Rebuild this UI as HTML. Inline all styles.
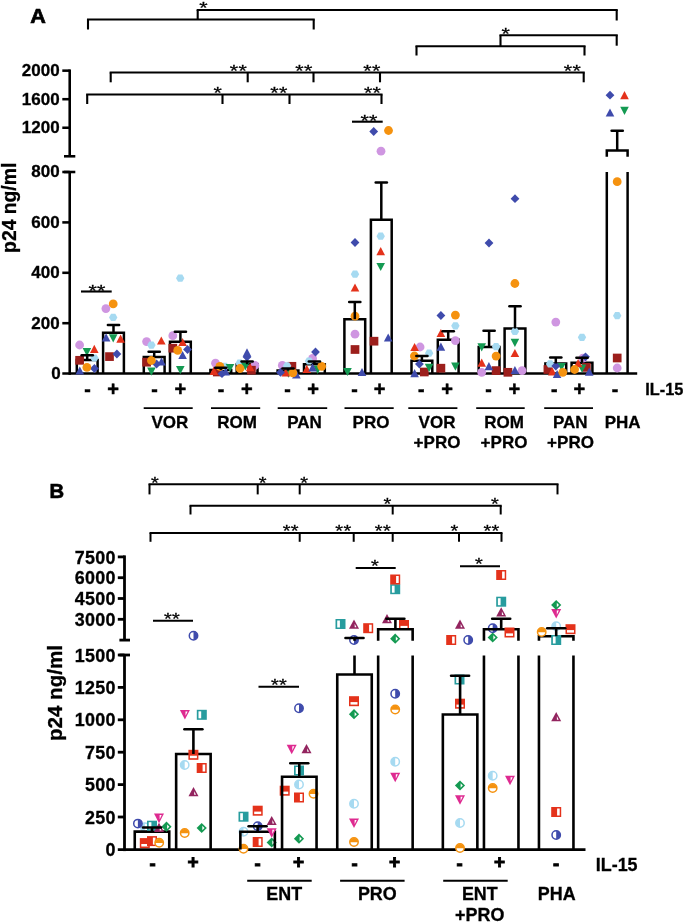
<!DOCTYPE html>
<html><head><meta charset="utf-8"><title>Figure</title>
<style>html,body{margin:0;padding:0;background:#fff;}body{width:685px;height:922px;overflow:hidden;}svg{display:block;filter:blur(0.45px);}</style>
</head><body>
<svg width="685" height="922" viewBox="0 0 685 922" font-family='"Liberation Sans", sans-serif' fill="#000">
<rect width="685" height="922" fill="#fff"/>
<line x1="69.70" y1="69.40" x2="69.70" y2="156.30" stroke="#000" stroke-width="2.55" stroke-linecap="butt"/>
<line x1="64.00" y1="156.30" x2="75.30" y2="156.30" stroke="#000" stroke-width="2.55" stroke-linecap="butt"/>
<line x1="64.00" y1="172.00" x2="75.30" y2="172.00" stroke="#000" stroke-width="2.55" stroke-linecap="butt"/>
<line x1="69.70" y1="172.00" x2="69.70" y2="374.80" stroke="#000" stroke-width="2.55" stroke-linecap="butt"/>
<line x1="62.30" y1="70.66" x2="69.70" y2="70.66" stroke="#000" stroke-width="2.55" stroke-linecap="butt"/>
<text x="59.60" y="76.06" font-size="17.0" font-weight="bold" text-anchor="end" stroke="#000" stroke-width="0.3" >2000</text>
<line x1="62.30" y1="99.20" x2="69.70" y2="99.20" stroke="#000" stroke-width="2.55" stroke-linecap="butt"/>
<text x="59.60" y="104.60" font-size="17.0" font-weight="bold" text-anchor="end" stroke="#000" stroke-width="0.3" >1600</text>
<line x1="62.30" y1="127.75" x2="69.70" y2="127.75" stroke="#000" stroke-width="2.55" stroke-linecap="butt"/>
<text x="59.60" y="133.15" font-size="17.0" font-weight="bold" text-anchor="end" stroke="#000" stroke-width="0.3" >1200</text>
<line x1="62.30" y1="172.00" x2="69.70" y2="172.00" stroke="#000" stroke-width="2.55" stroke-linecap="butt"/>
<text x="59.60" y="177.40" font-size="17.0" font-weight="bold" text-anchor="end" stroke="#000" stroke-width="0.3" >800</text>
<line x1="62.30" y1="222.40" x2="69.70" y2="222.40" stroke="#000" stroke-width="2.55" stroke-linecap="butt"/>
<text x="59.60" y="227.80" font-size="17.0" font-weight="bold" text-anchor="end" stroke="#000" stroke-width="0.3" >600</text>
<line x1="62.30" y1="272.80" x2="69.70" y2="272.80" stroke="#000" stroke-width="2.55" stroke-linecap="butt"/>
<text x="59.60" y="278.20" font-size="17.0" font-weight="bold" text-anchor="end" stroke="#000" stroke-width="0.3" >400</text>
<line x1="62.30" y1="323.20" x2="69.70" y2="323.20" stroke="#000" stroke-width="2.55" stroke-linecap="butt"/>
<text x="59.60" y="328.60" font-size="17.0" font-weight="bold" text-anchor="end" stroke="#000" stroke-width="0.3" >200</text>
<text x="60.80" y="378.90" font-size="17.0" font-weight="bold" text-anchor="end" stroke="#000" stroke-width="0.3" >0</text>
<line x1="62.30" y1="373.50" x2="637.20" y2="373.50" stroke="#000" stroke-width="2.7" stroke-linecap="butt"/>
<path d="M76.80,373.5 V360.00 H97.60 V373.5" fill="none" stroke="#000" stroke-width="2.5"/>
<path d="M103.10,373.5 V332.80 H123.90 V373.5" fill="none" stroke="#000" stroke-width="2.5"/>
<path d="M143.80,373.5 V357.00 H164.60 V373.5" fill="none" stroke="#000" stroke-width="2.5"/>
<path d="M170.00,373.5 V341.70 H190.80 V373.5" fill="none" stroke="#000" stroke-width="2.5"/>
<path d="M210.40,373.5 V369.90 H231.20 V373.5" fill="none" stroke="#000" stroke-width="2.5"/>
<path d="M236.70,373.5 V364.20 H257.50 V373.5" fill="none" stroke="#000" stroke-width="2.5"/>
<path d="M277.60,373.5 V370.60 H298.40 V373.5" fill="none" stroke="#000" stroke-width="2.5"/>
<path d="M304.00,373.5 V364.20 H324.80 V373.5" fill="none" stroke="#000" stroke-width="2.5"/>
<path d="M344.40,373.5 V319.20 H365.20 V373.5" fill="none" stroke="#000" stroke-width="2.5"/>
<path d="M370.90,373.5 V219.80 H391.70 V373.5" fill="none" stroke="#000" stroke-width="2.5"/>
<path d="M411.50,373.5 V360.80 H432.30 V373.5" fill="none" stroke="#000" stroke-width="2.5"/>
<path d="M437.80,373.5 V339.80 H458.60 V373.5" fill="none" stroke="#000" stroke-width="2.5"/>
<path d="M478.70,373.5 V347.00 H499.50 V373.5" fill="none" stroke="#000" stroke-width="2.5"/>
<path d="M504.60,373.5 V328.60 H525.40 V373.5" fill="none" stroke="#000" stroke-width="2.5"/>
<path d="M545.40,373.5 V363.50 H566.20 V373.5" fill="none" stroke="#000" stroke-width="2.5"/>
<path d="M571.60,373.5 V362.80 H592.40 V373.5" fill="none" stroke="#000" stroke-width="2.5"/>
<path d="M606.80,156.7 V150.5 H627.60 V156.7" fill="none" stroke="#000" stroke-width="2.5"/>
<line x1="606.80" y1="172.00" x2="606.80" y2="373.50" stroke="#000" stroke-width="2.5" stroke-linecap="butt"/>
<line x1="627.60" y1="172.00" x2="627.60" y2="373.50" stroke="#000" stroke-width="2.5" stroke-linecap="butt"/>
<circle cx="79.6" cy="345" r="4.4" fill="#CF96E1"/>
<rect x="75.25" y="355.95" width="8.7" height="8.7" fill="#9C1F1C"/>
<polygon points="90.20,358.00 92.30,354.40 96.50,354.40 98.60,358.00 96.50,361.60 92.30,361.60" fill="#A6DAF1" />
<polygon points="82.60,348.10 91.20,348.10 86.90,356.30" fill="#149A52" />
<polygon points="90.00,352.90 98.60,352.90 94.30,344.70" fill="#E4321B" />
<polygon points="90.00,368.50 94.40,364.10 98.80,368.50 94.40,372.90" fill="#3F4BAC" />
<polygon points="75.50,374.60 84.10,374.60 79.80,366.40" fill="#3F4BAC" />
<circle cx="86.9" cy="367.4" r="4.4" fill="#F5920F"/>
<circle cx="105.9" cy="308.6" r="4.4" fill="#CF96E1"/>
<rect x="105.15" y="352.25" width="8.7" height="8.7" fill="#9C1F1C"/>
<polygon points="109.00,317.40 111.10,313.80 115.30,313.80 117.40,317.40 115.30,321.00 111.10,321.00" fill="#A6DAF1" />
<polygon points="108.90,334.20 117.50,334.20 113.20,342.40" fill="#149A52" />
<polygon points="116.30,342.80 124.90,342.80 120.60,334.60" fill="#E4321B" />
<polygon points="112.50,354.00 116.90,349.60 121.30,354.00 116.90,358.40" fill="#3F4BAC" />
<polygon points="101.80,341.50 110.40,341.50 106.10,333.30" fill="#3F4BAC" />
<circle cx="113.2" cy="303.9" r="4.4" fill="#F5920F"/>
<circle cx="146.6" cy="341.6" r="4.4" fill="#CF96E1"/>
<rect x="142.25" y="357.85" width="8.7" height="8.7" fill="#9C1F1C"/>
<polygon points="147.20,345.10 149.30,341.50 153.50,341.50 155.60,345.10 153.50,348.70 149.30,348.70" fill="#A6DAF1" />
<polygon points="147.10,367.50 155.70,367.50 151.40,375.70" fill="#149A52" />
<polygon points="157.00,344.60 165.60,344.60 161.30,336.40" fill="#E4321B" />
<polygon points="152.20,364.00 156.60,359.60 161.00,364.00 156.60,368.40" fill="#3F4BAC" />
<polygon points="157.20,365.60 165.80,365.60 161.50,357.40" fill="#3F4BAC" />
<circle cx="151.4" cy="360.5" r="4.4" fill="#F5920F"/>
<circle cx="172.8" cy="335.7" r="4.4" fill="#CF96E1"/>
<rect x="168.45" y="343.85" width="8.7" height="8.7" fill="#9C1F1C"/>
<polygon points="176.00,278.20 178.10,274.60 182.30,274.60 184.40,278.20 182.30,281.80 178.10,281.80" fill="#A6DAF1" />
<polygon points="176.00,366.00 184.60,366.00 180.30,374.20" fill="#149A52" />
<polygon points="178.30,346.10 186.90,346.10 182.60,337.90" fill="#E4321B" />
<polygon points="183.10,349.50 187.50,345.10 191.90,349.50 187.50,353.90" fill="#3F4BAC" />
<polygon points="178.30,359.10 186.90,359.10 182.60,350.90" fill="#3F4BAC" />
<circle cx="177.7" cy="350.4" r="4.4" fill="#F5920F"/>
<circle cx="215.5" cy="363.2" r="4.4" fill="#CF96E1"/>
<rect x="212.95" y="367.65" width="8.7" height="8.7" fill="#9C1F1C"/>
<polygon points="220.50,366.30 222.60,362.70 226.80,362.70 228.90,366.30 226.80,369.90 222.60,369.90" fill="#A6DAF1" />
<polygon points="225.70,363.90 234.30,363.90 230.00,372.10" fill="#149A52" />
<polygon points="209.50,374.90 218.10,374.90 213.80,366.70" fill="#E4321B" />
<polygon points="217.60,373.70 222.00,369.30 226.40,373.70 222.00,378.10" fill="#3F4BAC" />
<polygon points="221.30,375.60 229.90,375.60 225.60,367.40" fill="#3F4BAC" />
<circle cx="219.9" cy="366.3" r="4.4" fill="#F5920F"/>
<circle cx="254.9" cy="365.4" r="4.4" fill="#CF96E1"/>
<rect x="247.05" y="365.85" width="8.7" height="8.7" fill="#9C1F1C"/>
<polygon points="235.40,363.20 237.50,359.60 241.70,359.60 243.80,363.20 241.70,366.80 237.50,366.80" fill="#A6DAF1" />
<polygon points="241.00,362.40 249.60,362.40 245.30,370.60" fill="#149A52" />
<polygon points="245.80,371.20 254.40,371.20 250.10,363.00" fill="#E4321B" />
<polygon points="242.60,357.00 247.00,352.60 251.40,357.00 247.00,361.40" fill="#3F4BAC" />
<polygon points="242.70,356.50 251.30,356.50 247.00,348.30" fill="#3F4BAC" />
<circle cx="240" cy="368.5" r="4.4" fill="#F5920F"/>
<circle cx="282.3" cy="365.4" r="4.4" fill="#CF96E1"/>
<rect x="287.55" y="361.95" width="8.7" height="8.7" fill="#9C1F1C"/>
<polygon points="282.90,365.80 285.00,362.20 289.20,362.20 291.30,365.80 289.20,369.40 285.00,369.40" fill="#A6DAF1" />
<polygon points="284.10,369.60 292.70,369.60 288.40,377.80" fill="#149A52" />
<polygon points="281.50,376.50 290.10,376.50 285.80,368.30" fill="#E4321B" />
<polygon points="276.10,372.40 280.50,368.00 284.90,372.40 280.50,376.80" fill="#3F4BAC" />
<polygon points="292.10,378.40 300.70,378.40 296.40,370.20" fill="#3F4BAC" />
<circle cx="292.9" cy="372.8" r="4.4" fill="#F5920F"/>
<circle cx="312.6" cy="358.4" r="4.4" fill="#CF96E1"/>
<polygon points="304.80,361.00 306.90,357.40 311.10,357.40 313.20,361.00 311.10,364.60 306.90,364.60" fill="#A6DAF1" />
<polygon points="313.40,365.70 322.00,365.70 317.70,373.90" fill="#149A52" />
<polygon points="302.50,373.00 311.10,373.00 306.80,364.80" fill="#E4321B" />
<polygon points="311.10,352.00 315.50,347.60 319.90,352.00 315.50,356.40" fill="#3F4BAC" />
<polygon points="308.30,371.40 316.90,371.40 312.60,363.20" fill="#3F4BAC" />
<circle cx="321.7" cy="366.3" r="4.4" fill="#F5920F"/>
<circle cx="355" cy="334.2" r="4.4" fill="#CF96E1"/>
<rect x="350.65" y="345.15" width="8.7" height="8.7" fill="#9C1F1C"/>
<polygon points="350.80,274.20 352.90,270.60 357.10,270.60 359.20,274.20 357.10,277.80 352.90,277.80" fill="#A6DAF1" />
<polygon points="343.20,367.90 351.80,367.90 347.50,376.10" fill="#149A52" />
<polygon points="350.70,291.60 359.30,291.60 355.00,283.40" fill="#E4321B" />
<polygon points="350.60,242.50 355.00,238.10 359.40,242.50 355.00,246.90" fill="#3F4BAC" />
<polygon points="357.70,376.10 366.30,376.10 362.00,367.90" fill="#3F4BAC" />
<circle cx="355" cy="316.2" r="4.4" fill="#F5920F"/>
<circle cx="381" cy="151.2" r="4.4" fill="#CF96E1"/>
<rect x="369.65" y="336.85" width="8.7" height="8.7" fill="#9C1F1C"/>
<polygon points="376.50,236.20 378.60,232.60 382.80,232.60 384.90,236.20 382.80,239.80 378.60,239.80" fill="#A6DAF1" />
<polygon points="376.40,262.90 385.00,262.90 380.70,271.10" fill="#149A52" />
<polygon points="376.40,255.30 385.00,255.30 380.70,247.10" fill="#E4321B" />
<polygon points="369.30,131.50 373.70,127.10 378.10,131.50 373.70,135.90" fill="#3F4BAC" />
<polygon points="383.90,341.60 392.50,341.60 388.20,333.40" fill="#3F4BAC" />
<circle cx="388.5" cy="130.5" r="4.4" fill="#F5920F"/>
<circle cx="420.1" cy="347" r="4.4" fill="#CF96E1"/>
<rect x="419.95" y="367.65" width="8.7" height="8.7" fill="#9C1F1C"/>
<polygon points="424.90,353.20 427.00,349.60 431.20,349.60 433.30,353.20 431.20,356.80 427.00,356.80" fill="#A6DAF1" />
<polygon points="424.80,363.70 433.40,363.70 429.10,371.90" fill="#149A52" />
<polygon points="410.30,351.10 418.90,351.10 414.60,342.90" fill="#E4321B" />
<polygon points="415.00,364.10 419.40,359.70 423.80,364.10 419.40,368.50" fill="#3F4BAC" />
<polygon points="410.30,377.20 418.90,377.20 414.60,369.00" fill="#3F4BAC" />
<circle cx="414.4" cy="356" r="4.4" fill="#F5920F"/>
<circle cx="455.4" cy="340.6" r="4.4" fill="#CF96E1"/>
<rect x="436.55" y="363.85" width="8.7" height="8.7" fill="#9C1F1C"/>
<polygon points="451.20,325.80 453.30,322.20 457.50,322.20 459.60,325.80 457.50,329.40 453.30,329.40" fill="#A6DAF1" />
<polygon points="451.10,362.60 459.70,362.60 455.40,370.80" fill="#149A52" />
<polygon points="436.60,337.10 445.20,337.10 440.90,328.90" fill="#E4321B" />
<polygon points="436.50,315.50 440.90,311.10 445.30,315.50 440.90,319.90" fill="#3F4BAC" />
<polygon points="436.60,350.70 445.20,350.70 440.90,342.50" fill="#3F4BAC" />
<circle cx="455.4" cy="315.1" r="4.4" fill="#F5920F"/>
<circle cx="481.7" cy="372.3" r="4.4" fill="#CF96E1"/>
<rect x="491.75" y="366.25" width="8.7" height="8.7" fill="#9C1F1C"/>
<polygon points="491.90,346.70 494.00,343.10 498.20,343.10 500.30,346.70 498.20,350.30 494.00,350.30" fill="#A6DAF1" />
<polygon points="477.40,343.20 486.00,343.20 481.70,351.40" fill="#149A52" />
<polygon points="477.40,366.80 486.00,366.80 481.70,358.60" fill="#E4321B" />
<polygon points="484.60,243.00 489.00,238.60 493.40,243.00 489.00,247.40" fill="#3F4BAC" />
<polygon points="484.60,370.30 493.20,370.30 488.90,362.10" fill="#3F4BAC" />
<circle cx="496.1" cy="356.1" r="4.4" fill="#F5920F"/>
<circle cx="522.1" cy="370.6" r="4.4" fill="#CF96E1"/>
<rect x="503.55" y="367.95" width="8.7" height="8.7" fill="#9C1F1C"/>
<polygon points="510.70,331.40 512.80,327.80 517.00,327.80 519.10,331.40 517.00,335.00 512.80,335.00" fill="#A6DAF1" />
<polygon points="510.60,338.80 519.20,338.80 514.90,347.00" fill="#149A52" />
<polygon points="510.60,357.10 519.20,357.10 514.90,348.90" fill="#E4321B" />
<polygon points="510.60,198.70 515.00,194.30 519.40,198.70 515.00,203.10" fill="#3F4BAC" />
<polygon points="510.60,374.10 519.20,374.10 514.90,365.90" fill="#3F4BAC" />
<circle cx="514.9" cy="283.5" r="4.4" fill="#F5920F"/>
<circle cx="555.8" cy="322.1" r="4.4" fill="#CF96E1"/>
<rect x="543.55" y="365.15" width="8.7" height="8.7" fill="#9C1F1C"/>
<polygon points="545.90,363.90 548.00,360.30 552.20,360.30 554.30,363.90 552.20,367.50 548.00,367.50" fill="#A6DAF1" />
<polygon points="557.20,362.90 565.80,362.90 561.50,371.10" fill="#149A52" />
<polygon points="548.00,375.40 556.60,375.40 552.30,367.20" fill="#E4321B" />
<polygon points="551.40,366.00 555.80,361.60 560.20,366.00 555.80,370.40" fill="#3F4BAC" />
<polygon points="552.80,378.10 561.40,378.10 557.10,369.90" fill="#3F4BAC" />
<circle cx="562.8" cy="372.3" r="4.4" fill="#F5920F"/>
<circle cx="582.9" cy="358.2" r="4.4" fill="#CF96E1"/>
<rect x="582.05" y="363.05" width="8.7" height="8.7" fill="#9C1F1C"/>
<polygon points="577.80,337.30 579.90,333.70 584.10,333.70 586.20,337.30 584.10,340.90 579.90,340.90" fill="#A6DAF1" />
<polygon points="577.70,364.50 586.30,364.50 582.00,372.70" fill="#149A52" />
<polygon points="573.80,367.30 582.40,367.30 578.10,359.10" fill="#E4321B" />
<polygon points="581.10,356.80 585.50,352.40 589.90,356.80 585.50,361.20" fill="#3F4BAC" />
<polygon points="584.90,375.80 593.50,375.80 589.20,367.60" fill="#3F4BAC" />
<circle cx="574.6" cy="369.5" r="4.4" fill="#F5920F"/>
<circle cx="617.2" cy="368" r="4.4" fill="#CF96E1"/>
<rect x="612.85" y="353.65" width="8.7" height="8.7" fill="#9C1F1C"/>
<polygon points="613.00,315.70 615.10,312.10 619.30,312.10 621.40,315.70 619.30,319.30 615.10,319.30" fill="#A6DAF1" />
<polygon points="620.20,106.70 628.80,106.70 624.50,114.90" fill="#149A52" />
<polygon points="620.20,99.20 628.80,99.20 624.50,91.00" fill="#E4321B" />
<polygon points="605.60,95.20 610.00,90.80 614.40,95.20 610.00,99.60" fill="#3F4BAC" />
<polygon points="605.70,116.60 614.30,116.60 610.00,108.40" fill="#3F4BAC" />
<circle cx="617.2" cy="181.7" r="4.4" fill="#F5920F"/>
<line x1="87.20" y1="355.30" x2="87.20" y2="360.00" stroke="#000" stroke-width="2.5" stroke-linecap="butt"/>
<line x1="81.60" y1="355.30" x2="92.80" y2="355.30" stroke="#000" stroke-width="2.5" stroke-linecap="round"/>
<line x1="113.50" y1="325.10" x2="113.50" y2="332.80" stroke="#000" stroke-width="2.5" stroke-linecap="butt"/>
<line x1="107.90" y1="325.10" x2="119.10" y2="325.10" stroke="#000" stroke-width="2.5" stroke-linecap="round"/>
<line x1="154.20" y1="351.70" x2="154.20" y2="357.00" stroke="#000" stroke-width="2.5" stroke-linecap="butt"/>
<line x1="148.60" y1="351.70" x2="159.80" y2="351.70" stroke="#000" stroke-width="2.5" stroke-linecap="round"/>
<line x1="180.40" y1="331.70" x2="180.40" y2="341.70" stroke="#000" stroke-width="2.5" stroke-linecap="butt"/>
<line x1="174.80" y1="331.70" x2="186.00" y2="331.70" stroke="#000" stroke-width="2.5" stroke-linecap="round"/>
<line x1="220.80" y1="367.70" x2="220.80" y2="369.90" stroke="#000" stroke-width="2.5" stroke-linecap="butt"/>
<line x1="215.20" y1="367.70" x2="226.40" y2="367.70" stroke="#000" stroke-width="2.5" stroke-linecap="round"/>
<line x1="247.10" y1="361.40" x2="247.10" y2="364.20" stroke="#000" stroke-width="2.5" stroke-linecap="butt"/>
<line x1="241.50" y1="361.40" x2="252.70" y2="361.40" stroke="#000" stroke-width="2.5" stroke-linecap="round"/>
<line x1="288.00" y1="368.40" x2="288.00" y2="370.60" stroke="#000" stroke-width="2.5" stroke-linecap="butt"/>
<line x1="282.40" y1="368.40" x2="293.60" y2="368.40" stroke="#000" stroke-width="2.5" stroke-linecap="round"/>
<line x1="314.40" y1="361.60" x2="314.40" y2="364.20" stroke="#000" stroke-width="2.5" stroke-linecap="butt"/>
<line x1="308.80" y1="361.60" x2="320.00" y2="361.60" stroke="#000" stroke-width="2.5" stroke-linecap="round"/>
<line x1="354.80" y1="302.00" x2="354.80" y2="319.20" stroke="#000" stroke-width="2.5" stroke-linecap="butt"/>
<line x1="349.20" y1="302.00" x2="360.40" y2="302.00" stroke="#000" stroke-width="2.5" stroke-linecap="round"/>
<line x1="381.30" y1="182.50" x2="381.30" y2="219.80" stroke="#000" stroke-width="2.5" stroke-linecap="butt"/>
<line x1="375.70" y1="182.50" x2="386.90" y2="182.50" stroke="#000" stroke-width="2.5" stroke-linecap="round"/>
<line x1="421.90" y1="356.10" x2="421.90" y2="360.80" stroke="#000" stroke-width="2.5" stroke-linecap="butt"/>
<line x1="416.30" y1="356.10" x2="427.50" y2="356.10" stroke="#000" stroke-width="2.5" stroke-linecap="round"/>
<line x1="448.20" y1="331.30" x2="448.20" y2="339.80" stroke="#000" stroke-width="2.5" stroke-linecap="butt"/>
<line x1="442.60" y1="331.30" x2="453.80" y2="331.30" stroke="#000" stroke-width="2.5" stroke-linecap="round"/>
<line x1="489.10" y1="330.70" x2="489.10" y2="347.00" stroke="#000" stroke-width="2.5" stroke-linecap="butt"/>
<line x1="483.50" y1="330.70" x2="494.70" y2="330.70" stroke="#000" stroke-width="2.5" stroke-linecap="round"/>
<line x1="515.00" y1="306.30" x2="515.00" y2="328.60" stroke="#000" stroke-width="2.5" stroke-linecap="butt"/>
<line x1="509.40" y1="306.30" x2="520.60" y2="306.30" stroke="#000" stroke-width="2.5" stroke-linecap="round"/>
<line x1="555.80" y1="357.40" x2="555.80" y2="363.50" stroke="#000" stroke-width="2.5" stroke-linecap="butt"/>
<line x1="550.20" y1="357.40" x2="561.40" y2="357.40" stroke="#000" stroke-width="2.5" stroke-linecap="round"/>
<line x1="582.00" y1="357.80" x2="582.00" y2="362.80" stroke="#000" stroke-width="2.5" stroke-linecap="butt"/>
<line x1="576.40" y1="357.80" x2="587.60" y2="357.80" stroke="#000" stroke-width="2.5" stroke-linecap="round"/>
<line x1="617.20" y1="130.70" x2="617.20" y2="150.50" stroke="#000" stroke-width="2.5" stroke-linecap="butt"/>
<line x1="611.60" y1="130.70" x2="622.80" y2="130.70" stroke="#000" stroke-width="2.5" stroke-linecap="round"/>
<line x1="86.95" y1="19.50" x2="314.75" y2="19.50" stroke="#000" stroke-width="2.1" stroke-linecap="butt"/>
<line x1="88.00" y1="19.50" x2="88.00" y2="29.50" stroke="#000" stroke-width="2.1" stroke-linecap="butt"/>
<line x1="313.70" y1="19.50" x2="313.70" y2="29.50" stroke="#000" stroke-width="2.1" stroke-linecap="butt"/>
<line x1="196.65" y1="10.00" x2="617.75" y2="10.00" stroke="#000" stroke-width="2.1" stroke-linecap="butt"/>
<line x1="197.70" y1="10.00" x2="197.70" y2="19.50" stroke="#000" stroke-width="2.1" stroke-linecap="butt"/>
<line x1="616.70" y1="10.00" x2="616.70" y2="20.50" stroke="#000" stroke-width="2.1" stroke-linecap="butt"/>
<line x1="499.45" y1="35.20" x2="617.75" y2="35.20" stroke="#000" stroke-width="2.1" stroke-linecap="butt"/>
<line x1="616.70" y1="35.20" x2="616.70" y2="45.70" stroke="#000" stroke-width="2.1" stroke-linecap="butt"/>
<line x1="500.50" y1="35.20" x2="500.50" y2="46.20" stroke="#000" stroke-width="2.1" stroke-linecap="butt"/>
<line x1="415.45" y1="46.20" x2="585.55" y2="46.20" stroke="#000" stroke-width="2.1" stroke-linecap="butt"/>
<line x1="416.50" y1="46.20" x2="416.50" y2="55.50" stroke="#000" stroke-width="2.1" stroke-linecap="butt"/>
<line x1="584.50" y1="46.20" x2="584.50" y2="55.50" stroke="#000" stroke-width="2.1" stroke-linecap="butt"/>
<line x1="109.65" y1="72.50" x2="584.75" y2="72.50" stroke="#000" stroke-width="2.1" stroke-linecap="butt"/>
<line x1="110.70" y1="72.50" x2="110.70" y2="82.30" stroke="#000" stroke-width="2.1" stroke-linecap="butt"/>
<line x1="247.70" y1="72.50" x2="247.70" y2="82.30" stroke="#000" stroke-width="2.1" stroke-linecap="butt"/>
<line x1="313.50" y1="72.50" x2="313.50" y2="82.30" stroke="#000" stroke-width="2.1" stroke-linecap="butt"/>
<line x1="380.00" y1="72.50" x2="380.00" y2="82.30" stroke="#000" stroke-width="2.1" stroke-linecap="butt"/>
<line x1="583.70" y1="72.50" x2="583.70" y2="82.30" stroke="#000" stroke-width="2.1" stroke-linecap="butt"/>
<line x1="86.15" y1="94.50" x2="382.55" y2="94.50" stroke="#000" stroke-width="2.1" stroke-linecap="butt"/>
<line x1="87.20" y1="94.50" x2="87.20" y2="104.00" stroke="#000" stroke-width="2.1" stroke-linecap="butt"/>
<line x1="222.50" y1="94.50" x2="222.50" y2="104.00" stroke="#000" stroke-width="2.1" stroke-linecap="butt"/>
<line x1="289.50" y1="94.50" x2="289.50" y2="104.00" stroke="#000" stroke-width="2.1" stroke-linecap="butt"/>
<line x1="381.50" y1="94.50" x2="381.50" y2="104.00" stroke="#000" stroke-width="2.1" stroke-linecap="butt"/>
<line x1="352.00" y1="121.70" x2="382.70" y2="121.70" stroke="#000" stroke-width="2.1" stroke-linecap="butt"/>
<line x1="81.00" y1="291.50" x2="111.70" y2="291.50" stroke="#000" stroke-width="2.1" stroke-linecap="butt"/>
<text transform="translate(203.70,14.24) scale(1,0.8)" font-size="21.5" text-anchor="middle" letter-spacing="0.3" stroke="#000" stroke-width="0.35">*</text>
<text transform="translate(505.90,39.64) scale(1,0.8)" font-size="21.5" text-anchor="middle" letter-spacing="0.3" stroke="#000" stroke-width="0.35">*</text>
<text transform="translate(238.40,76.64) scale(1,0.8)" font-size="21.5" text-anchor="middle" letter-spacing="0.3" stroke="#000" stroke-width="0.35">**</text>
<text transform="translate(303.90,76.64) scale(1,0.8)" font-size="21.5" text-anchor="middle" letter-spacing="0.3" stroke="#000" stroke-width="0.35">**</text>
<text transform="translate(371.90,76.64) scale(1,0.8)" font-size="21.5" text-anchor="middle" letter-spacing="0.3" stroke="#000" stroke-width="0.35">**</text>
<text transform="translate(572.50,76.64) scale(1,0.8)" font-size="21.5" text-anchor="middle" letter-spacing="0.3" stroke="#000" stroke-width="0.35">**</text>
<text transform="translate(217.80,99.34) scale(1,0.8)" font-size="21.5" text-anchor="middle" letter-spacing="0.3" stroke="#000" stroke-width="0.35">*</text>
<text transform="translate(278.90,99.34) scale(1,0.8)" font-size="21.5" text-anchor="middle" letter-spacing="0.3" stroke="#000" stroke-width="0.35">**</text>
<text transform="translate(372.60,99.34) scale(1,0.8)" font-size="21.5" text-anchor="middle" letter-spacing="0.3" stroke="#000" stroke-width="0.35">**</text>
<text transform="translate(369.10,126.64) scale(1,0.8)" font-size="21.5" text-anchor="middle" letter-spacing="0.3" stroke="#000" stroke-width="0.35">**</text>
<text transform="translate(97.10,296.64) scale(1,0.8)" font-size="21.5" text-anchor="middle" letter-spacing="0.3" stroke="#000" stroke-width="0.35">**</text>
<text x="87.40" y="395.60" font-size="19.5" font-weight="bold" text-anchor="middle" stroke="#000" stroke-width="0.5" >-</text>
<text x="154.40" y="395.60" font-size="19.5" font-weight="bold" text-anchor="middle" stroke="#000" stroke-width="0.5" >-</text>
<text x="221.00" y="395.60" font-size="19.5" font-weight="bold" text-anchor="middle" stroke="#000" stroke-width="0.5" >-</text>
<text x="287.40" y="395.60" font-size="19.5" font-weight="bold" text-anchor="middle" stroke="#000" stroke-width="0.5" >-</text>
<text x="354.60" y="395.60" font-size="19.5" font-weight="bold" text-anchor="middle" stroke="#000" stroke-width="0.5" >-</text>
<text x="421.30" y="395.60" font-size="19.5" font-weight="bold" text-anchor="middle" stroke="#000" stroke-width="0.5" >-</text>
<text x="488.60" y="395.60" font-size="19.5" font-weight="bold" text-anchor="middle" stroke="#000" stroke-width="0.5" >-</text>
<text x="554.30" y="395.60" font-size="19.5" font-weight="bold" text-anchor="middle" stroke="#000" stroke-width="0.5" >-</text>
<text x="615.00" y="395.60" font-size="19.5" font-weight="bold" text-anchor="middle" stroke="#000" stroke-width="0.5" >-</text>
<text x="113.10" y="395.90" font-size="20" font-weight="bold" text-anchor="middle" stroke="#000" stroke-width="0.5" >+</text>
<text x="180.30" y="395.90" font-size="20" font-weight="bold" text-anchor="middle" stroke="#000" stroke-width="0.5" >+</text>
<text x="246.80" y="395.90" font-size="20" font-weight="bold" text-anchor="middle" stroke="#000" stroke-width="0.5" >+</text>
<text x="313.10" y="395.90" font-size="20" font-weight="bold" text-anchor="middle" stroke="#000" stroke-width="0.5" >+</text>
<text x="379.60" y="395.90" font-size="20" font-weight="bold" text-anchor="middle" stroke="#000" stroke-width="0.5" >+</text>
<text x="447.10" y="395.90" font-size="20" font-weight="bold" text-anchor="middle" stroke="#000" stroke-width="0.5" >+</text>
<text x="514.30" y="395.90" font-size="20" font-weight="bold" text-anchor="middle" stroke="#000" stroke-width="0.5" >+</text>
<text x="579.30" y="395.90" font-size="20" font-weight="bold" text-anchor="middle" stroke="#000" stroke-width="0.5" >+</text>
<text x="645.30" y="395.20" font-size="16.3" font-weight="bold" text-anchor="start" stroke="#000" stroke-width="0.3" >IL-15</text>
<line x1="143.70" y1="408.10" x2="192.70" y2="408.10" stroke="#000" stroke-width="1.9" stroke-linecap="butt"/>
<line x1="211.00" y1="408.10" x2="260.20" y2="408.10" stroke="#000" stroke-width="1.9" stroke-linecap="butt"/>
<line x1="277.70" y1="408.10" x2="327.20" y2="408.10" stroke="#000" stroke-width="1.9" stroke-linecap="butt"/>
<line x1="344.50" y1="408.10" x2="393.70" y2="408.10" stroke="#000" stroke-width="1.9" stroke-linecap="butt"/>
<line x1="408.30" y1="408.10" x2="457.40" y2="408.10" stroke="#000" stroke-width="1.9" stroke-linecap="butt"/>
<line x1="476.20" y1="408.10" x2="524.70" y2="408.10" stroke="#000" stroke-width="1.9" stroke-linecap="butt"/>
<line x1="544.20" y1="408.10" x2="593.00" y2="408.10" stroke="#000" stroke-width="1.9" stroke-linecap="butt"/>
<text x="169.80" y="428.20" font-size="17.0" font-weight="bold" text-anchor="middle" stroke="#000" stroke-width="0.3" >VOR</text>
<text x="237.10" y="428.20" font-size="17.0" font-weight="bold" text-anchor="middle" stroke="#000" stroke-width="0.3" >ROM</text>
<text x="304.50" y="428.20" font-size="17.0" font-weight="bold" text-anchor="middle" stroke="#000" stroke-width="0.3" >PAN</text>
<text x="371.00" y="428.20" font-size="17.0" font-weight="bold" text-anchor="middle" stroke="#000" stroke-width="0.3" >PRO</text>
<text x="437.00" y="428.20" font-size="17.0" font-weight="bold" text-anchor="middle" stroke="#000" stroke-width="0.3" >VOR</text>
<text x="437.00" y="448.20" font-size="17.0" font-weight="bold" text-anchor="middle" stroke="#000" stroke-width="0.3" >+PRO</text>
<text x="504.00" y="428.20" font-size="17.0" font-weight="bold" text-anchor="middle" stroke="#000" stroke-width="0.3" >ROM</text>
<text x="504.00" y="448.20" font-size="17.0" font-weight="bold" text-anchor="middle" stroke="#000" stroke-width="0.3" >+PRO</text>
<text x="570.30" y="428.20" font-size="17.0" font-weight="bold" text-anchor="middle" stroke="#000" stroke-width="0.3" >PAN</text>
<text x="570.50" y="448.20" font-size="17.0" font-weight="bold" text-anchor="middle" stroke="#000" stroke-width="0.3" >+PRO</text>
<text x="622.70" y="428.20" font-size="17.0" font-weight="bold" text-anchor="middle" stroke="#000" stroke-width="0.3" >PHA</text>
<text transform="translate(16.1,252.9) rotate(-90)" font-size="19.6" font-weight="bold" stroke="#000" stroke-width="0.3" textLength="90.2" lengthAdjust="spacingAndGlyphs">p24 ng/ml</text>
<text x="30.2" y="22.7" font-size="19.4" font-weight="bold" stroke="#000" stroke-width="0.7" textLength="15.6" lengthAdjust="spacingAndGlyphs">A</text>
<line x1="124.50" y1="555.40" x2="124.50" y2="640.10" stroke="#000" stroke-width="2.8" stroke-linecap="butt"/>
<line x1="119.40" y1="640.10" x2="130.00" y2="640.10" stroke="#000" stroke-width="2.8" stroke-linecap="butt"/>
<line x1="119.40" y1="655.00" x2="130.00" y2="655.00" stroke="#000" stroke-width="2.8" stroke-linecap="butt"/>
<line x1="124.50" y1="655.00" x2="124.50" y2="851.10" stroke="#000" stroke-width="2.8" stroke-linecap="butt"/>
<line x1="117.80" y1="556.90" x2="124.50" y2="556.90" stroke="#000" stroke-width="2.8" stroke-linecap="butt"/>
<text x="115.90" y="563.50" font-size="17.9" font-weight="bold" text-anchor="end" stroke="#000" stroke-width="0.3" letter-spacing="0.35">7500</text>
<line x1="117.80" y1="577.70" x2="124.50" y2="577.70" stroke="#000" stroke-width="2.8" stroke-linecap="butt"/>
<text x="115.90" y="584.30" font-size="17.9" font-weight="bold" text-anchor="end" stroke="#000" stroke-width="0.3" letter-spacing="0.35">6000</text>
<line x1="117.80" y1="598.50" x2="124.50" y2="598.50" stroke="#000" stroke-width="2.8" stroke-linecap="butt"/>
<text x="115.90" y="605.10" font-size="17.9" font-weight="bold" text-anchor="end" stroke="#000" stroke-width="0.3" letter-spacing="0.35">4500</text>
<line x1="117.80" y1="619.30" x2="124.50" y2="619.30" stroke="#000" stroke-width="2.8" stroke-linecap="butt"/>
<text x="115.90" y="625.90" font-size="17.9" font-weight="bold" text-anchor="end" stroke="#000" stroke-width="0.3" letter-spacing="0.35">3000</text>
<line x1="117.80" y1="655.00" x2="124.50" y2="655.00" stroke="#000" stroke-width="2.8" stroke-linecap="butt"/>
<text x="115.90" y="661.60" font-size="17.9" font-weight="bold" text-anchor="end" stroke="#000" stroke-width="0.3" letter-spacing="0.35">1500</text>
<line x1="117.80" y1="687.40" x2="124.50" y2="687.40" stroke="#000" stroke-width="2.8" stroke-linecap="butt"/>
<text x="115.90" y="694.00" font-size="17.9" font-weight="bold" text-anchor="end" stroke="#000" stroke-width="0.3" letter-spacing="0.35">1250</text>
<line x1="117.80" y1="719.80" x2="124.50" y2="719.80" stroke="#000" stroke-width="2.8" stroke-linecap="butt"/>
<text x="115.90" y="726.40" font-size="17.9" font-weight="bold" text-anchor="end" stroke="#000" stroke-width="0.3" letter-spacing="0.35">1000</text>
<line x1="117.80" y1="752.20" x2="124.50" y2="752.20" stroke="#000" stroke-width="2.8" stroke-linecap="butt"/>
<text x="115.90" y="758.80" font-size="17.9" font-weight="bold" text-anchor="end" stroke="#000" stroke-width="0.3" letter-spacing="0.35">750</text>
<line x1="117.80" y1="784.60" x2="124.50" y2="784.60" stroke="#000" stroke-width="2.8" stroke-linecap="butt"/>
<text x="115.90" y="791.20" font-size="17.9" font-weight="bold" text-anchor="end" stroke="#000" stroke-width="0.3" letter-spacing="0.35">500</text>
<line x1="117.80" y1="817.00" x2="124.50" y2="817.00" stroke="#000" stroke-width="2.8" stroke-linecap="butt"/>
<text x="115.90" y="823.60" font-size="17.9" font-weight="bold" text-anchor="end" stroke="#000" stroke-width="0.3" letter-spacing="0.35">250</text>
<text x="115.90" y="856.20" font-size="17.9" font-weight="bold" text-anchor="end" stroke="#000" stroke-width="0.3" letter-spacing="0.35">0</text>
<line x1="117.80" y1="849.60" x2="585.50" y2="849.60" stroke="#000" stroke-width="2.7" stroke-linecap="butt"/>
<rect x="399.00" y="620.00" width="10.0" height="10.0" fill="#E4321B"/>
<rect x="400.50" y="625.90" width="7.0" height="2.5" fill="#fff"/>
<circle cx="492.7" cy="628.2" r="4.2" fill="#fff" stroke="#3F4BAC" stroke-width="1.5"/>
<path d="M492.70,624.00 A4.2,4.2 0 0 1 492.70,632.40 Z" fill="#3F4BAC"/>
<circle cx="243.5" cy="831.7" r="4.2" fill="#fff" stroke="#A6DAF1" stroke-width="1.5"/>
<path d="M243.50,827.50 A4.2,4.2 0 0 0 243.50,835.90 Z" fill="#A6DAF1"/>
<circle cx="243.5" cy="848.7" r="4.2" fill="#fff" stroke="#F5920F" stroke-width="1.5"/>
<path d="M239.30,849.00 A4.2,4.2 0 0 1 247.70,849.00 Z" fill="#F5920F"/>
<rect x="279.70" y="785.70" width="10.0" height="10.0" fill="#E4321B"/>
<rect x="281.20" y="791.60" width="7.0" height="2.5" fill="#fff"/>
<circle cx="313.5" cy="793.7" r="4.2" fill="#fff" stroke="#F5920F" stroke-width="1.5"/>
<path d="M309.30,794.00 A4.2,4.2 0 0 1 317.70,794.00 Z" fill="#F5920F"/>
<polygon points="266.60,842.50 271.70,837.40 276.80,842.50 271.70,847.60" fill="#149A52" />
<polygon points="272.30,840.30 274.50,842.50 272.30,844.70" fill="#fff" />
<circle cx="144.8" cy="827.3" r="4.2" fill="#fff" stroke="#A6DAF1" stroke-width="1.5"/>
<path d="M144.80,823.10 A4.2,4.2 0 0 0 144.80,831.50 Z" fill="#A6DAF1"/>
<path d="M134.75,849.6 V831.60 H169.25 V849.6" fill="none" stroke="#000" stroke-width="2.6"/>
<path d="M176.15,849.6 V754.00 H210.65 V849.6" fill="none" stroke="#000" stroke-width="2.6"/>
<path d="M240.35,849.6 V831.70 H274.85 V849.6" fill="none" stroke="#000" stroke-width="2.6"/>
<path d="M282.05,849.6 V776.70 H316.55 V849.6" fill="none" stroke="#000" stroke-width="2.6"/>
<path d="M337.25,849.6 V674.50 H371.75 V849.6" fill="none" stroke="#000" stroke-width="2.6"/>
<path d="M378.15,640.8 V629.20 H412.65 V640.8" fill="none" stroke="#000" stroke-width="2.6"/>
<line x1="378.15" y1="655.50" x2="378.15" y2="849.60" stroke="#000" stroke-width="2.6" stroke-linecap="butt"/>
<line x1="412.65" y1="655.50" x2="412.65" y2="849.60" stroke="#000" stroke-width="2.6" stroke-linecap="butt"/>
<path d="M442.85,849.6 V714.50 H477.35 V849.6" fill="none" stroke="#000" stroke-width="2.6"/>
<path d="M483.95,640.8 V629.20 H518.45 V640.8" fill="none" stroke="#000" stroke-width="2.6"/>
<line x1="483.95" y1="655.50" x2="483.95" y2="849.60" stroke="#000" stroke-width="2.6" stroke-linecap="butt"/>
<line x1="518.45" y1="655.50" x2="518.45" y2="849.60" stroke="#000" stroke-width="2.6" stroke-linecap="butt"/>
<path d="M538.95,640.8 V636.20 H573.45 V640.8" fill="none" stroke="#000" stroke-width="2.6"/>
<line x1="538.95" y1="655.50" x2="538.95" y2="849.60" stroke="#000" stroke-width="2.6" stroke-linecap="butt"/>
<line x1="573.45" y1="655.50" x2="573.45" y2="849.60" stroke="#000" stroke-width="2.6" stroke-linecap="butt"/>
<circle cx="137.9" cy="823.6" r="4.2" fill="#fff" stroke="#3F4BAC" stroke-width="1.5"/>
<path d="M137.90,819.40 A4.2,4.2 0 0 1 137.90,827.80 Z" fill="#3F4BAC"/>
<rect x="147.00" y="820.70" width="10.0" height="10.0" fill="#279C9E"/>
<rect x="148.70" y="822.20" width="2.7" height="7.0" fill="#fff"/>
<rect x="139.80" y="838.10" width="10.0" height="10.0" fill="#E4321B"/>
<rect x="141.30" y="844.00" width="7.0" height="2.5" fill="#fff"/>
<rect x="147.00" y="836.10" width="10.0" height="10.0" fill="#E4321B"/>
<rect x="152.90" y="837.60" width="2.6" height="7.0" fill="#fff"/>
<circle cx="159.2" cy="842.8" r="4.2" fill="#fff" stroke="#F5920F" stroke-width="1.5"/>
<path d="M155.00,843.10 A4.2,4.2 0 0 1 163.40,843.10 Z" fill="#F5920F"/>
<polygon points="154.00,813.60 164.00,813.60 159.00,823.20" fill="#DE2A90" />
<polygon points="159.60,815.10 161.70,815.10 159.60,819.40" fill="#fff" />
<polygon points="154.00,832.00 164.00,832.00 159.00,822.80" fill="#93245F" />
<polygon points="159.70,827.00 159.70,830.40 161.50,830.40" fill="#fff" />
<polygon points="161.40,826.70 166.50,821.60 171.60,826.70 166.50,831.80" fill="#149A52" />
<polygon points="167.10,824.50 169.30,826.70 167.10,828.90" fill="#fff" />
<circle cx="184.7" cy="765" r="4.2" fill="#fff" stroke="#A6DAF1" stroke-width="1.5"/>
<path d="M184.70,760.80 A4.2,4.2 0 0 0 184.70,769.20 Z" fill="#A6DAF1"/>
<circle cx="193.5" cy="635.7" r="4.2" fill="#fff" stroke="#3F4BAC" stroke-width="1.5"/>
<path d="M193.50,631.50 A4.2,4.2 0 0 1 193.50,639.90 Z" fill="#3F4BAC"/>
<rect x="196.80" y="709.80" width="10.0" height="10.0" fill="#279C9E"/>
<rect x="198.50" y="711.30" width="2.7" height="7.0" fill="#fff"/>
<rect x="188.40" y="749.80" width="10.0" height="10.0" fill="#E4321B"/>
<rect x="189.90" y="755.70" width="7.0" height="2.5" fill="#fff"/>
<rect x="196.70" y="763.00" width="10.0" height="10.0" fill="#E4321B"/>
<rect x="202.60" y="764.50" width="2.6" height="7.0" fill="#fff"/>
<circle cx="184.7" cy="833" r="4.2" fill="#fff" stroke="#F5920F" stroke-width="1.5"/>
<path d="M180.50,833.30 A4.2,4.2 0 0 1 188.90,833.30 Z" fill="#F5920F"/>
<polygon points="179.90,710.00 189.90,710.00 184.90,719.60" fill="#DE2A90" />
<polygon points="185.50,711.50 187.60,711.50 185.50,715.80" fill="#fff" />
<polygon points="188.50,796.30 198.50,796.30 193.50,787.10" fill="#93245F" />
<polygon points="194.20,791.30 194.20,794.70 196.00,794.70" fill="#fff" />
<polygon points="196.60,828.00 201.70,822.90 206.80,828.00 201.70,833.10" fill="#149A52" />
<polygon points="202.30,825.80 204.50,828.00 202.30,830.20" fill="#fff" />
<circle cx="257.7" cy="826.2" r="4.2" fill="#fff" stroke="#3F4BAC" stroke-width="1.5"/>
<path d="M257.70,822.00 A4.2,4.2 0 0 1 257.70,830.40 Z" fill="#3F4BAC"/>
<rect x="238.50" y="811.70" width="10.0" height="10.0" fill="#279C9E"/>
<rect x="240.20" y="813.20" width="2.7" height="7.0" fill="#fff"/>
<rect x="252.70" y="805.70" width="10.0" height="10.0" fill="#E4321B"/>
<rect x="254.20" y="811.60" width="7.0" height="2.5" fill="#fff"/>
<rect x="252.70" y="837.00" width="10.0" height="10.0" fill="#E4321B"/>
<rect x="258.60" y="838.50" width="2.6" height="7.0" fill="#fff"/>
<polygon points="266.70,828.20 276.70,828.20 271.70,837.80" fill="#DE2A90" />
<polygon points="272.30,829.70 274.40,829.70 272.30,834.00" fill="#fff" />
<polygon points="266.70,825.10 276.70,825.10 271.70,815.90" fill="#93245F" />
<polygon points="272.40,820.10 272.40,823.50 274.20,823.50" fill="#fff" />
<circle cx="299" cy="784.5" r="4.2" fill="#fff" stroke="#A6DAF1" stroke-width="1.5"/>
<path d="M299.00,780.30 A4.2,4.2 0 0 0 299.00,788.70 Z" fill="#A6DAF1"/>
<circle cx="299" cy="708.2" r="4.2" fill="#fff" stroke="#3F4BAC" stroke-width="1.5"/>
<path d="M299.00,704.00 A4.2,4.2 0 0 1 299.00,712.40 Z" fill="#3F4BAC"/>
<rect x="294.00" y="765.50" width="10.0" height="10.0" fill="#279C9E"/>
<rect x="295.70" y="767.00" width="2.7" height="7.0" fill="#fff"/>
<rect x="294.00" y="792.50" width="10.0" height="10.0" fill="#E4321B"/>
<rect x="299.90" y="794.00" width="2.6" height="7.0" fill="#fff"/>
<polygon points="286.70,744.70 296.70,744.70 291.70,754.30" fill="#DE2A90" />
<polygon points="292.30,746.20 294.40,746.20 292.30,750.50" fill="#fff" />
<polygon points="301.50,753.30 311.50,753.30 306.50,744.10" fill="#93245F" />
<polygon points="307.20,748.30 307.20,751.70 309.00,751.70" fill="#fff" />
<polygon points="293.90,838.70 299.00,833.60 304.10,838.70 299.00,843.80" fill="#149A52" />
<polygon points="299.60,836.50 301.80,838.70 299.60,840.90" fill="#fff" />
<circle cx="354" cy="803.7" r="4.2" fill="#fff" stroke="#A6DAF1" stroke-width="1.5"/>
<path d="M354.00,799.50 A4.2,4.2 0 0 0 354.00,807.90 Z" fill="#A6DAF1"/>
<circle cx="354" cy="640" r="4.2" fill="#fff" stroke="#3F4BAC" stroke-width="1.5"/>
<path d="M354.00,635.80 A4.2,4.2 0 0 1 354.00,644.20 Z" fill="#3F4BAC"/>
<rect x="335.50" y="619.00" width="10.0" height="10.0" fill="#279C9E"/>
<rect x="337.20" y="620.50" width="2.7" height="7.0" fill="#fff"/>
<rect x="349.00" y="696.20" width="10.0" height="10.0" fill="#E4321B"/>
<rect x="350.50" y="702.10" width="7.0" height="2.5" fill="#fff"/>
<rect x="363.20" y="623.20" width="10.0" height="10.0" fill="#E4321B"/>
<rect x="369.10" y="624.70" width="2.6" height="7.0" fill="#fff"/>
<circle cx="354" cy="842" r="4.2" fill="#fff" stroke="#F5920F" stroke-width="1.5"/>
<path d="M349.80,842.30 A4.2,4.2 0 0 1 358.20,842.30 Z" fill="#F5920F"/>
<polygon points="349.00,818.40 359.00,818.40 354.00,828.00" fill="#DE2A90" />
<polygon points="354.60,819.90 356.70,819.90 354.60,824.20" fill="#fff" />
<polygon points="349.00,628.80 359.00,628.80 354.00,619.60" fill="#93245F" />
<polygon points="354.70,623.80 354.70,627.20 356.50,627.20" fill="#fff" />
<polygon points="348.90,714.20 354.00,709.10 359.10,714.20 354.00,719.30" fill="#149A52" />
<polygon points="354.60,712.00 356.80,714.20 354.60,716.40" fill="#fff" />
<circle cx="395.2" cy="761.7" r="4.2" fill="#fff" stroke="#A6DAF1" stroke-width="1.5"/>
<path d="M395.20,757.50 A4.2,4.2 0 0 0 395.20,765.90 Z" fill="#A6DAF1"/>
<circle cx="395.2" cy="693.7" r="4.2" fill="#fff" stroke="#3F4BAC" stroke-width="1.5"/>
<path d="M395.20,689.50 A4.2,4.2 0 0 1 395.20,697.90 Z" fill="#3F4BAC"/>
<rect x="390.20" y="584.20" width="10.0" height="10.0" fill="#279C9E"/>
<rect x="391.90" y="585.70" width="2.7" height="7.0" fill="#fff"/>
<rect x="390.20" y="574.50" width="10.0" height="10.0" fill="#E4321B"/>
<rect x="396.10" y="576.00" width="2.6" height="7.0" fill="#fff"/>
<circle cx="395.2" cy="709.5" r="4.2" fill="#fff" stroke="#F5920F" stroke-width="1.5"/>
<path d="M391.00,709.80 A4.2,4.2 0 0 1 399.40,709.80 Z" fill="#F5920F"/>
<polygon points="390.20,772.70 400.20,772.70 395.20,782.30" fill="#DE2A90" />
<polygon points="395.80,774.20 397.90,774.20 395.80,778.50" fill="#fff" />
<polygon points="382.00,623.30 392.00,623.30 387.00,614.10" fill="#93245F" />
<polygon points="387.70,618.30 387.70,621.70 389.50,621.70" fill="#fff" />
<polygon points="390.10,638.70 395.20,633.60 400.30,638.70 395.20,643.80" fill="#149A52" />
<polygon points="395.80,636.50 398.00,638.70 395.80,640.90" fill="#fff" />
<circle cx="460" cy="823" r="4.2" fill="#fff" stroke="#A6DAF1" stroke-width="1.5"/>
<path d="M460.00,818.80 A4.2,4.2 0 0 0 460.00,827.20 Z" fill="#A6DAF1"/>
<circle cx="468.2" cy="640" r="4.2" fill="#fff" stroke="#3F4BAC" stroke-width="1.5"/>
<path d="M468.20,635.80 A4.2,4.2 0 0 1 468.20,644.20 Z" fill="#3F4BAC"/>
<rect x="454.50" y="674.50" width="10.0" height="10.0" fill="#279C9E"/>
<rect x="456.20" y="676.00" width="2.7" height="7.0" fill="#fff"/>
<rect x="455.00" y="698.70" width="10.0" height="10.0" fill="#E4321B"/>
<rect x="456.50" y="704.60" width="7.0" height="2.5" fill="#fff"/>
<rect x="446.20" y="635.00" width="10.0" height="10.0" fill="#E4321B"/>
<rect x="452.10" y="636.50" width="2.6" height="7.0" fill="#fff"/>
<circle cx="460" cy="848" r="4.2" fill="#fff" stroke="#F5920F" stroke-width="1.5"/>
<path d="M455.80,848.30 A4.2,4.2 0 0 1 464.20,848.30 Z" fill="#F5920F"/>
<polygon points="455.00,795.20 465.00,795.20 460.00,804.80" fill="#DE2A90" />
<polygon points="460.60,796.70 462.70,796.70 460.60,801.00" fill="#fff" />
<polygon points="455.00,628.80 465.00,628.80 460.00,619.60" fill="#93245F" />
<polygon points="460.70,623.80 460.70,627.20 462.50,627.20" fill="#fff" />
<polygon points="454.90,785.50 460.00,780.40 465.10,785.50 460.00,790.60" fill="#149A52" />
<polygon points="460.60,783.30 462.80,785.50 460.60,787.70" fill="#fff" />
<circle cx="492.7" cy="775.7" r="4.2" fill="#fff" stroke="#A6DAF1" stroke-width="1.5"/>
<path d="M492.70,771.50 A4.2,4.2 0 0 0 492.70,779.90 Z" fill="#A6DAF1"/>
<rect x="496.20" y="596.70" width="10.0" height="10.0" fill="#279C9E"/>
<rect x="497.90" y="598.20" width="2.7" height="7.0" fill="#fff"/>
<rect x="504.50" y="627.50" width="10.0" height="10.0" fill="#E4321B"/>
<rect x="506.00" y="633.40" width="7.0" height="2.5" fill="#fff"/>
<rect x="496.20" y="570.00" width="10.0" height="10.0" fill="#E4321B"/>
<rect x="502.10" y="571.50" width="2.6" height="7.0" fill="#fff"/>
<circle cx="492.7" cy="788" r="4.2" fill="#fff" stroke="#F5920F" stroke-width="1.5"/>
<path d="M488.50,788.30 A4.2,4.2 0 0 1 496.90,788.30 Z" fill="#F5920F"/>
<polygon points="505.00,775.70 515.00,775.70 510.00,785.30" fill="#DE2A90" />
<polygon points="510.60,777.20 512.70,777.20 510.60,781.50" fill="#fff" />
<polygon points="496.20,616.50 506.20,616.50 501.20,607.30" fill="#93245F" />
<polygon points="501.90,611.50 501.90,614.90 503.70,614.90" fill="#fff" />
<polygon points="487.60,637.50 492.70,632.40 497.80,637.50 492.70,642.60" fill="#149A52" />
<polygon points="493.30,635.30 495.50,637.50 493.30,639.70" fill="#fff" />
<circle cx="556.2" cy="626.2" r="4.2" fill="#fff" stroke="#A6DAF1" stroke-width="1.5"/>
<path d="M556.20,622.00 A4.2,4.2 0 0 0 556.20,630.40 Z" fill="#A6DAF1"/>
<circle cx="556.2" cy="835" r="4.2" fill="#fff" stroke="#3F4BAC" stroke-width="1.5"/>
<path d="M556.20,830.80 A4.2,4.2 0 0 1 556.20,839.20 Z" fill="#3F4BAC"/>
<rect x="551.20" y="635.00" width="10.0" height="10.0" fill="#279C9E"/>
<rect x="552.90" y="636.50" width="2.7" height="7.0" fill="#fff"/>
<rect x="565.50" y="624.20" width="10.0" height="10.0" fill="#E4321B"/>
<rect x="567.00" y="630.10" width="7.0" height="2.5" fill="#fff"/>
<rect x="551.20" y="807.00" width="10.0" height="10.0" fill="#E4321B"/>
<rect x="557.10" y="808.50" width="2.6" height="7.0" fill="#fff"/>
<circle cx="541.7" cy="632" r="4.2" fill="#fff" stroke="#F5920F" stroke-width="1.5"/>
<path d="M537.50,632.30 A4.2,4.2 0 0 1 545.90,632.30 Z" fill="#F5920F"/>
<polygon points="551.20,608.90 561.20,608.90 556.20,618.50" fill="#DE2A90" />
<polygon points="556.80,610.40 558.90,610.40 556.80,614.70" fill="#fff" />
<polygon points="551.20,721.30 561.20,721.30 556.20,712.10" fill="#93245F" />
<polygon points="556.90,716.30 556.90,719.70 558.70,719.70" fill="#fff" />
<polygon points="551.10,605.00 556.20,599.90 561.30,605.00 556.20,610.10" fill="#149A52" />
<polygon points="556.80,602.80 559.00,605.00 556.80,607.20" fill="#fff" />
<line x1="152.00" y1="827.50" x2="152.00" y2="831.60" stroke="#000" stroke-width="2.6" stroke-linecap="butt"/>
<line x1="143.00" y1="827.50" x2="161.00" y2="827.50" stroke="#000" stroke-width="2.6" stroke-linecap="round"/>
<line x1="193.40" y1="729.30" x2="193.40" y2="754.00" stroke="#000" stroke-width="2.6" stroke-linecap="butt"/>
<line x1="184.40" y1="729.30" x2="202.40" y2="729.30" stroke="#000" stroke-width="2.6" stroke-linecap="round"/>
<line x1="257.60" y1="826.20" x2="257.60" y2="831.70" stroke="#000" stroke-width="2.6" stroke-linecap="butt"/>
<line x1="248.60" y1="826.20" x2="266.60" y2="826.20" stroke="#000" stroke-width="2.6" stroke-linecap="round"/>
<line x1="299.30" y1="763.20" x2="299.30" y2="776.70" stroke="#000" stroke-width="2.6" stroke-linecap="butt"/>
<line x1="290.30" y1="763.20" x2="308.30" y2="763.20" stroke="#000" stroke-width="2.6" stroke-linecap="round"/>
<line x1="354.50" y1="638.00" x2="354.50" y2="640.80" stroke="#000" stroke-width="2.6" stroke-linecap="butt"/>
<line x1="354.50" y1="655.50" x2="354.50" y2="674.50" stroke="#000" stroke-width="2.6" stroke-linecap="butt"/>
<line x1="345.50" y1="638.00" x2="363.50" y2="638.00" stroke="#000" stroke-width="2.6" stroke-linecap="round"/>
<line x1="395.40" y1="618.70" x2="395.40" y2="629.20" stroke="#000" stroke-width="2.6" stroke-linecap="butt"/>
<line x1="386.40" y1="618.70" x2="404.40" y2="618.70" stroke="#000" stroke-width="2.6" stroke-linecap="round"/>
<line x1="460.10" y1="675.70" x2="460.10" y2="714.50" stroke="#000" stroke-width="2.6" stroke-linecap="butt"/>
<line x1="451.10" y1="675.70" x2="469.10" y2="675.70" stroke="#000" stroke-width="2.6" stroke-linecap="round"/>
<line x1="501.20" y1="618.70" x2="501.20" y2="629.20" stroke="#000" stroke-width="2.6" stroke-linecap="butt"/>
<line x1="492.20" y1="618.70" x2="510.20" y2="618.70" stroke="#000" stroke-width="2.6" stroke-linecap="round"/>
<line x1="556.20" y1="628.20" x2="556.20" y2="636.20" stroke="#000" stroke-width="2.6" stroke-linecap="butt"/>
<line x1="547.20" y1="628.20" x2="565.20" y2="628.20" stroke="#000" stroke-width="2.6" stroke-linecap="round"/>
<line x1="148.50" y1="484.20" x2="558.50" y2="484.20" stroke="#000" stroke-width="2.0" stroke-linecap="butt"/>
<line x1="149.50" y1="484.20" x2="149.50" y2="494.40" stroke="#000" stroke-width="2.0" stroke-linecap="butt"/>
<line x1="257.70" y1="484.20" x2="257.70" y2="494.40" stroke="#000" stroke-width="2.0" stroke-linecap="butt"/>
<line x1="299.70" y1="484.20" x2="299.70" y2="494.40" stroke="#000" stroke-width="2.0" stroke-linecap="butt"/>
<line x1="557.50" y1="484.20" x2="557.50" y2="494.40" stroke="#000" stroke-width="2.0" stroke-linecap="butt"/>
<line x1="189.50" y1="505.70" x2="501.70" y2="505.70" stroke="#000" stroke-width="2.0" stroke-linecap="butt"/>
<line x1="190.50" y1="505.70" x2="190.50" y2="514.50" stroke="#000" stroke-width="2.0" stroke-linecap="butt"/>
<line x1="392.70" y1="505.70" x2="392.70" y2="514.50" stroke="#000" stroke-width="2.0" stroke-linecap="butt"/>
<line x1="500.70" y1="505.70" x2="500.70" y2="514.50" stroke="#000" stroke-width="2.0" stroke-linecap="butt"/>
<line x1="149.50" y1="533.10" x2="502.50" y2="533.10" stroke="#000" stroke-width="2.0" stroke-linecap="butt"/>
<line x1="150.50" y1="533.10" x2="150.50" y2="541.80" stroke="#000" stroke-width="2.0" stroke-linecap="butt"/>
<line x1="299.70" y1="533.10" x2="299.70" y2="541.80" stroke="#000" stroke-width="2.0" stroke-linecap="butt"/>
<line x1="353.70" y1="533.10" x2="353.70" y2="541.80" stroke="#000" stroke-width="2.0" stroke-linecap="butt"/>
<line x1="392.70" y1="533.10" x2="392.70" y2="541.80" stroke="#000" stroke-width="2.0" stroke-linecap="butt"/>
<line x1="459.00" y1="533.10" x2="459.00" y2="541.80" stroke="#000" stroke-width="2.0" stroke-linecap="butt"/>
<line x1="501.50" y1="533.10" x2="501.50" y2="541.80" stroke="#000" stroke-width="2.0" stroke-linecap="butt"/>
<line x1="153.00" y1="620.70" x2="193.00" y2="620.70" stroke="#000" stroke-width="2.0" stroke-linecap="butt"/>
<line x1="258.50" y1="686.70" x2="299.00" y2="686.70" stroke="#000" stroke-width="2.0" stroke-linecap="butt"/>
<line x1="355.70" y1="568.00" x2="395.70" y2="568.00" stroke="#000" stroke-width="2.0" stroke-linecap="butt"/>
<line x1="460.00" y1="566.20" x2="500.00" y2="566.20" stroke="#000" stroke-width="2.0" stroke-linecap="butt"/>
<text transform="translate(155.10,488.50) scale(1,0.8)" font-size="20.0" text-anchor="middle" letter-spacing="0.3" stroke="#000" stroke-width="0.35">*</text>
<text transform="translate(262.80,488.50) scale(1,0.8)" font-size="20.0" text-anchor="middle" letter-spacing="0.3" stroke="#000" stroke-width="0.35">*</text>
<text transform="translate(304.30,488.50) scale(1,0.8)" font-size="20.0" text-anchor="middle" letter-spacing="0.3" stroke="#000" stroke-width="0.35">*</text>
<text transform="translate(387.60,509.80) scale(1,0.8)" font-size="20.0" text-anchor="middle" letter-spacing="0.3" stroke="#000" stroke-width="0.35">*</text>
<text transform="translate(495.10,509.80) scale(1,0.8)" font-size="20.0" text-anchor="middle" letter-spacing="0.3" stroke="#000" stroke-width="0.35">*</text>
<text transform="translate(290.80,537.20) scale(1,0.8)" font-size="20.0" text-anchor="middle" letter-spacing="0.3" stroke="#000" stroke-width="0.35">**</text>
<text transform="translate(343.40,537.20) scale(1,0.8)" font-size="20.0" text-anchor="middle" letter-spacing="0.3" stroke="#000" stroke-width="0.35">**</text>
<text transform="translate(382.90,537.20) scale(1,0.8)" font-size="20.0" text-anchor="middle" letter-spacing="0.3" stroke="#000" stroke-width="0.35">**</text>
<text transform="translate(454.60,537.20) scale(1,0.8)" font-size="20.0" text-anchor="middle" letter-spacing="0.3" stroke="#000" stroke-width="0.35">*</text>
<text transform="translate(491.60,537.20) scale(1,0.8)" font-size="20.0" text-anchor="middle" letter-spacing="0.3" stroke="#000" stroke-width="0.35">**</text>
<text transform="translate(172.00,624.70) scale(1,0.8)" font-size="20.0" text-anchor="middle" letter-spacing="0.3" stroke="#000" stroke-width="0.35">**</text>
<text transform="translate(279.00,690.80) scale(1,0.8)" font-size="20.0" text-anchor="middle" letter-spacing="0.3" stroke="#000" stroke-width="0.35">**</text>
<text transform="translate(375.10,572.00) scale(1,0.8)" font-size="20.0" text-anchor="middle" letter-spacing="0.3" stroke="#000" stroke-width="0.35">*</text>
<text transform="translate(479.10,570.20) scale(1,0.8)" font-size="20.0" text-anchor="middle" letter-spacing="0.3" stroke="#000" stroke-width="0.35">*</text>
<text x="152.50" y="870.30" font-size="18.5" font-weight="bold" text-anchor="middle" stroke="#000" stroke-width="0.9" >-</text>
<text x="257.70" y="870.30" font-size="18.5" font-weight="bold" text-anchor="middle" stroke="#000" stroke-width="0.9" >-</text>
<text x="354.50" y="870.30" font-size="18.5" font-weight="bold" text-anchor="middle" stroke="#000" stroke-width="0.9" >-</text>
<text x="459.50" y="870.30" font-size="18.5" font-weight="bold" text-anchor="middle" stroke="#000" stroke-width="0.9" >-</text>
<text x="556.00" y="870.30" font-size="18.5" font-weight="bold" text-anchor="middle" stroke="#000" stroke-width="0.9" >-</text>
<text x="193.00" y="868.20" font-size="19" font-weight="bold" text-anchor="middle" stroke="#000" stroke-width="0.9" >+</text>
<text x="298.50" y="868.20" font-size="19" font-weight="bold" text-anchor="middle" stroke="#000" stroke-width="0.9" >+</text>
<text x="394.50" y="868.20" font-size="19" font-weight="bold" text-anchor="middle" stroke="#000" stroke-width="0.9" >+</text>
<text x="499.50" y="868.20" font-size="19" font-weight="bold" text-anchor="middle" stroke="#000" stroke-width="0.9" >+</text>
<text x="595.80" y="871.20" font-size="17.9" font-weight="bold" text-anchor="start" stroke="#000" stroke-width="0.3" >IL-15</text>
<line x1="247.20" y1="880.70" x2="311.70" y2="880.70" stroke="#000" stroke-width="2.0" stroke-linecap="butt"/>
<line x1="340.10" y1="880.70" x2="404.60" y2="880.70" stroke="#000" stroke-width="2.0" stroke-linecap="butt"/>
<line x1="443.20" y1="880.70" x2="507.70" y2="880.70" stroke="#000" stroke-width="2.0" stroke-linecap="butt"/>
<text x="284.20" y="900.40" font-size="17.9" font-weight="bold" text-anchor="middle" stroke="#000" stroke-width="0.3" >ENT</text>
<text x="377.30" y="900.40" font-size="17.9" font-weight="bold" text-anchor="middle" stroke="#000" stroke-width="0.3" >PRO</text>
<text x="479.80" y="900.40" font-size="17.9" font-weight="bold" text-anchor="middle" stroke="#000" stroke-width="0.3" >ENT</text>
<text x="479.70" y="921.00" font-size="17.9" font-weight="bold" text-anchor="middle" stroke="#000" stroke-width="0.3" >+PRO</text>
<text x="556.70" y="900.40" font-size="17.9" font-weight="bold" text-anchor="middle" stroke="#000" stroke-width="0.3" >PHA</text>
<text transform="translate(61.5,741.0) rotate(-90)" font-size="20.6" font-weight="bold" stroke="#000" stroke-width="0.3" textLength="95.9" lengthAdjust="spacingAndGlyphs">p24 ng/ml</text>
<text x="49.6" y="498.0" font-size="19.6" font-weight="bold" stroke="#000" stroke-width="0.7" textLength="14.6" lengthAdjust="spacingAndGlyphs">B</text>
</svg>
</body></html>
